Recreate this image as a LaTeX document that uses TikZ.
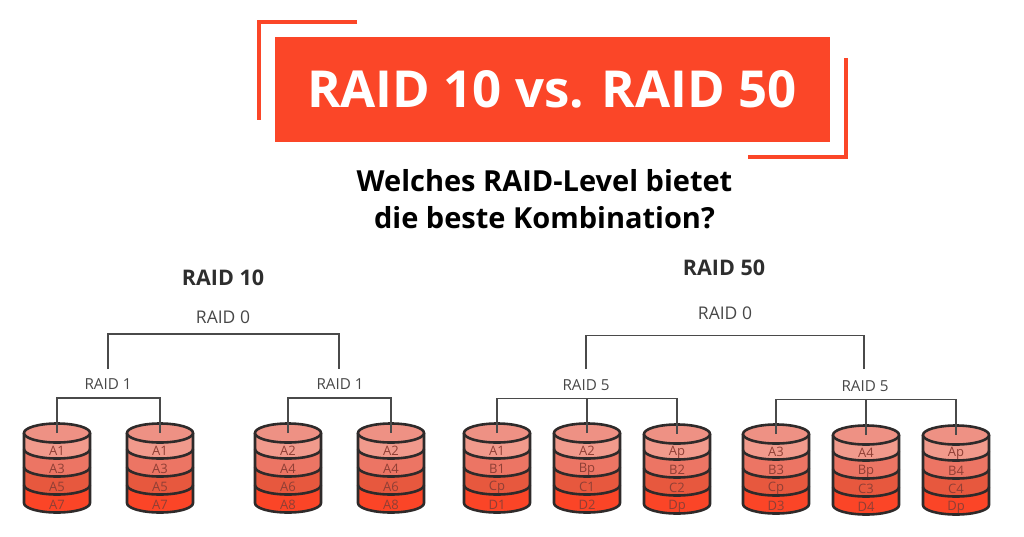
\documentclass[tikz,border=0pt]{standalone}
\usepackage{fontspec}
\setmainfont{Open Sans}

\definecolor{raidred}{HTML}{FB4628}
\definecolor{diskline}{HTML}{2E2A2A}
\definecolor{disktop}{HTML}{EE9184}
\definecolor{bandone}{HTML}{F19A8C}
\definecolor{bandtwo}{HTML}{EC7564}
\definecolor{bandthree}{HTML}{E7583E}
\definecolor{bandfour}{HTML}{FB4527}
\definecolor{disktext}{HTML}{8F3F35}
\definecolor{linkline}{HTML}{4A4A4A}

\tikzset{
	link/.style={draw=linkline, line width=1.5pt},
	raidlevel/.style={text=black!72, font=\fontsize{17.5}{17.5}\selectfont, inner sep=0pt},
	raidsub/.style={text=black!72, font=\fontsize{15.2}{15.2}\selectfont, inner sep=0pt},
	heading/.style={text=black!82, font=\fontsize{21.5}{21.5}\selectfont\bfseries, inner sep=0pt},
	disklabel/.style={text=disktext, font=\fontsize{13}{13}\selectfont, inner sep=0pt},
	frameline/.style={draw=raidred, line width=3.2pt},
	rim/.style={x radius=33, y radius=9.5, start angle=180, end angle=0}
}

% disk stack: name, x, y of top, then the four band labels
\newcommand{\disk}[7]{
	\begin{scope}[shift={(#2,#3)}]
		% body, lowest band first
		\fill[bandfour] (-33,52) -- (-33,70) arc[rim] -- (33,52) -- cycle;
		\fill[bandthree] (-33,34) -- (-33,52) arc[rim] -- (33,34) -- cycle;
		\fill[bandtwo] (-33,16) -- (-33,34) arc[rim] -- (33,16) -- cycle;
		\fill[bandone] (-33,0) -- (-33,16) arc[rim] -- (33,0) -- cycle;
		% outline and band edges
		\draw[diskline, line width=2.6pt] (-33,16) arc[rim];
		\draw[diskline, line width=2.6pt] (-33,34) arc[rim];
		\draw[diskline, line width=2.6pt] (-33,52) arc[rim];
		\draw[diskline, line width=2.6pt] (-33,0) -- (-33,70) arc[rim] -- (33,0);
		\draw[diskline, line width=2.6pt, fill=disktop] (0,0) ellipse[x radius=33, y radius=9.5];
		% band labels
		\node[disklabel] (#1a) at (0,18) {#4};
		\node[disklabel] (#1b) at (0,36) {#5};
		\node[disklabel] (#1c) at (0,54) {#6};
		\node[disklabel] (#1d) at (0,72) {#7};
		\coordinate (#1) at (0,0);
	\end{scope}
}

\begin{document}
\begin{tikzpicture}[x=1pt, y=-1pt]
	\useasboundingbox (0,0) rectangle (1024,536);

	% Title banner
	\node[fill=raidred, text=white, minimum width=555pt, minimum height=105.5pt, inner sep=0pt, font=\fontsize{51}{51}\selectfont\bfseries] (title) at (552,89.5) {RAID 10 vs. RAID 50};
	\coordinate (frameA) at (357,22);
	\coordinate (frameB) at (259,22);
	\coordinate (frameC) at (259,120);
	\coordinate (frameD) at (846,58);
	\coordinate (frameE) at (846,157);
	\coordinate (frameF) at (748,157);
	\draw[frameline] (frameA) -- (frameB) -- (frameC);
	\draw[frameline] (frameD) -- (frameE) -- (frameF);

	% Subtitle
	\node[font=\fontsize{29}{37}\selectfont\bfseries, align=center, text=black, inner sep=0pt] (subtitle) at (544.5,199.5) {Welches RAID-Level bietet\\die beste Kombination?};

	% Headings
	\node[heading] (headten) at (223,278) {RAID 10};
	\node[heading] (headfifty) at (724,268) {RAID 50};

	% RAID 10 disks
	\disk{tenA}{57}{433}{A1}{A3}{A5}{A7}
	\disk{tenB}{160}{433}{A1}{A3}{A5}{A7}
	\disk{tenC}{288}{433}{A2}{A4}{A6}{A8}
	\disk{tenD}{391}{433}{A2}{A4}{A6}{A8}

	% RAID 50 disks
	\disk{fiftyA}{497}{433}{A1}{B1}{Cp}{D1}
	\disk{fiftyB}{587}{433}{A2}{Bp}{C1}{D2}
	\disk{fiftyC}{677}{434}{Ap}{B2}{C2}{Dp}
	\disk{fiftyD}{776}{434}{A3}{B3}{Cp}{D3}
	\disk{fiftyE}{866}{435}{A4}{Bp}{C3}{D4}
	\disk{fiftyF}{956}{435}{Ap}{B4}{C4}{Dp}

	% RAID 10 tree
	\node[raidlevel] (zeroten) at (223,317) {RAID 0};
	\coordinate (zerotenL) at (108,369);
	\coordinate (zerotenR) at (339,369);
	\coordinate (zerotenbar) at (223,334);
	\draw[link] (zerotenL) |- (zerotenbar) -| (zerotenR);
	\node[raidsub] (oneA) at (108,384) {RAID 1};
	\node[raidsub] (oneB) at (340,384) {RAID 1};
	\coordinate (oneAbar) at (108,398);
	\coordinate (oneBbar) at (340,398);
	\draw[link] (tenA) |- (oneAbar) -| (tenB);
	\draw[link] (tenC) |- (oneBbar) -| (tenD);

	% RAID 50 tree
	\node[raidlevel] (zerofifty) at (725,313) {RAID 0};
	\coordinate (zerofiftyL) at (586,369);
	\coordinate (zerofiftyR) at (864,369);
	\coordinate (zerofiftybar) at (725,335.5);
	\draw[link] (zerofiftyL) |- (zerofiftybar) -| (zerofiftyR);
	\node[raidsub] (fiveA) at (586,385) {RAID 5};
	\node[raidsub] (fiveB) at (865,386) {RAID 5};
	\coordinate (fiveAbar) at (587,398.5);
	\coordinate (fiveBbar) at (866,399.5);
	\draw[link] (fiftyA) |- (fiveAbar) -| (fiftyC);
	\draw[link] (fiftyB) -- (fiveAbar);
	\draw[link] (fiftyD) |- (fiveBbar) -| (fiftyF);
	\draw[link] (fiftyE) -- (fiveBbar);
\end{tikzpicture}
\end{document}
